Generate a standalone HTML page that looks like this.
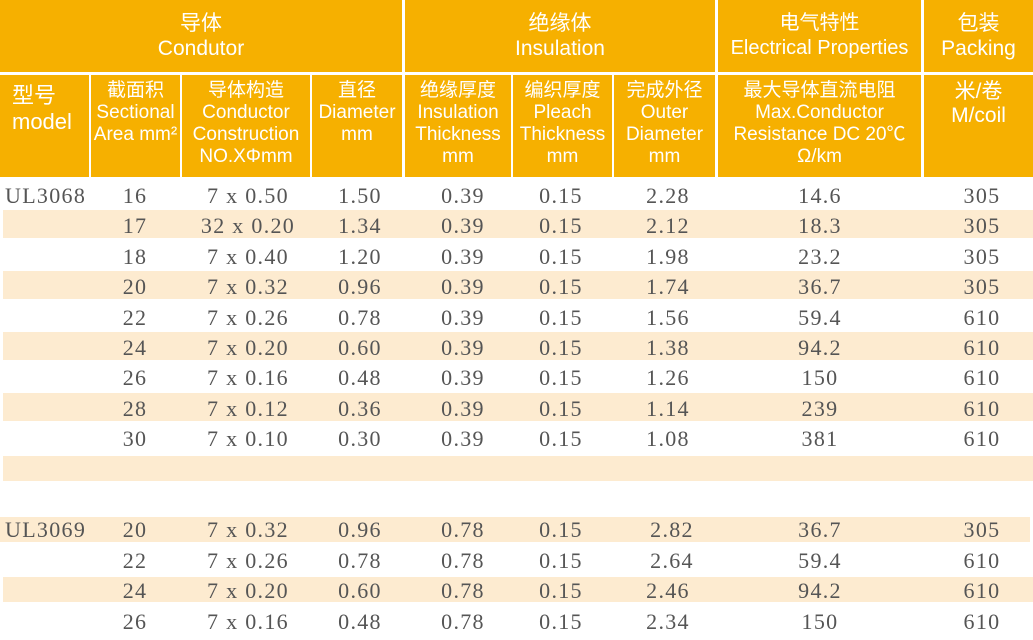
<!DOCTYPE html>
<html><head><meta charset="utf-8"><style>
*{margin:0;padding:0;box-sizing:border-box}
body{width:1033px;height:640px;overflow:hidden;background:#fff;position:relative;font-family:"Liberation Sans","Noto Sans CJK SC",sans-serif}
.h{position:absolute;background:#F6B000;color:#fff;text-align:center;font-size:21px;line-height:25px;display:flex;flex-direction:column;justify-content:center;align-items:center;white-space:nowrap}
.h2{justify-content:flex-start;padding-top:5px;font-size:19px;line-height:22px}
.s{position:absolute;left:3px;width:1030px;background:#FDEBD0}
.r{position:absolute;left:0;width:1033px;height:30px;font-family:"Liberation Serif",serif;font-size:22px;letter-spacing:1.3px;color:#555;line-height:30px}
.r span{position:absolute;text-align:center;width:140px}
</style></head><body>
<div class="h" style="left:0;top:0;width:402px;height:72px">导体<br>Condutor</div>
<div class="h" style="left:405px;top:0;width:310px;height:72px">绝缘体<br>Insulation</div>
<div class="h" style="left:718px;top:0;width:203px;height:72px;font-size:20px">电气特性<br>Electrical Properties</div>
<div class="h" style="left:924px;top:0;width:109px;height:72px">包装<br>Packing</div>

<div class="h" style="left:0;top:75px;width:89px;height:102px;justify-content:flex-start;padding-top:8px;align-items:flex-start;padding-left:12px;text-align:left;font-size:22px;line-height:26px">型号<br>model</div>
<div class="h h2" style="left:91px;top:75px;width:89px;height:102px">截面积<br>Sectional<br>Area mm²</div>
<div class="h h2" style="left:182px;top:75px;width:128px;height:102px">导体构造<br>Conductor<br>Construction<br>NO.XΦmm</div>
<div class="h h2" style="left:312px;top:75px;width:90px;height:102px">直径<br>Diameter<br>mm</div>
<div class="h h2" style="left:405px;top:75px;width:106px;height:102px">绝缘厚度<br>Insulation<br>Thickness<br>mm</div>
<div class="h h2" style="left:513px;top:75px;width:99px;height:102px">编织厚度<br>Pleach<br>Thickness<br>mm</div>
<div class="h h2" style="left:614px;top:75px;width:101px;height:102px">完成外径<br>Outer<br>Diameter<br>mm</div>
<div class="h h2" style="left:718px;top:75px;width:203px;height:102px">最大导体直流电阻<br>Max.Conductor<br>Resistance DC 20℃<br>Ω/km</div>
<div class="h h2" style="left:924px;top:75px;width:109px;height:102px;font-size:21px;line-height:24px">米/卷<br>M/coil</div>

<div class="s" style="top:210px;height:28px"></div>
<div class="s" style="top:271px;height:28px"></div>
<div class="s" style="top:332px;height:28px"></div>
<div class="s" style="top:393px;height:28px"></div>
<div class="s" style="top:456px;height:25px"></div>
<div class="s" style="top:517px;height:25px;left:0"></div>
<div class="s" style="top:577px;height:25px"></div>

<div id="rows"></div>
<script>
var d=[
["UL3068","16","7 x 0.50","1.50","0.39","0.15","2.28","14.6","305"],
["","17","32 x 0.20","1.34","0.39","0.15","2.12","18.3","305"],
["","18","7 x 0.40","1.20","0.39","0.15","1.98","23.2","305"],
["","20","7 x 0.32","0.96","0.39","0.15","1.74","36.7","305"],
["","22","7 x 0.26","0.78","0.39","0.15","1.56","59.4","610"],
["","24","7 x 0.20","0.60","0.39","0.15","1.38","94.2","610"],
["","26","7 x 0.16","0.48","0.39","0.15","1.26","150","610"],
["","28","7 x 0.12","0.36","0.39","0.15","1.14","239","610"],
["","30","7 x 0.10","0.30","0.39","0.15","1.08","381","610"],
null,null,
["UL3069","20","7 x 0.32","0.96","0.78","0.15","2.82","36.7","305"],
["","22","7 x 0.26","0.78","0.78","0.15","2.64","59.4","610"],
["","24","7 x 0.20","0.60","0.78","0.15","2.46","94.2","610"],
["","26","7 x 0.16","0.48","0.78","0.15","2.34","150","610"]];
var cx=[null,135,248,360,463,561,668,820,982];
var h="";
d.forEach(function(r,i){if(!r)return;var y=181+30.4*i;
h+='<div class="r" style="top:'+y+'px">';
if(r[0])h+='<span style="left:5px;text-align:left">'+r[0]+'</span>';
for(var j=1;j<9;j++){var x=cx[j];if(i>=11&&j==6&&i<13)x=672;h+='<span style="left:'+(x-70)+'px">'+r[j]+'</span>';}
h+='</div>';});
document.getElementById("rows").innerHTML=h;
</script>
</body></html>
